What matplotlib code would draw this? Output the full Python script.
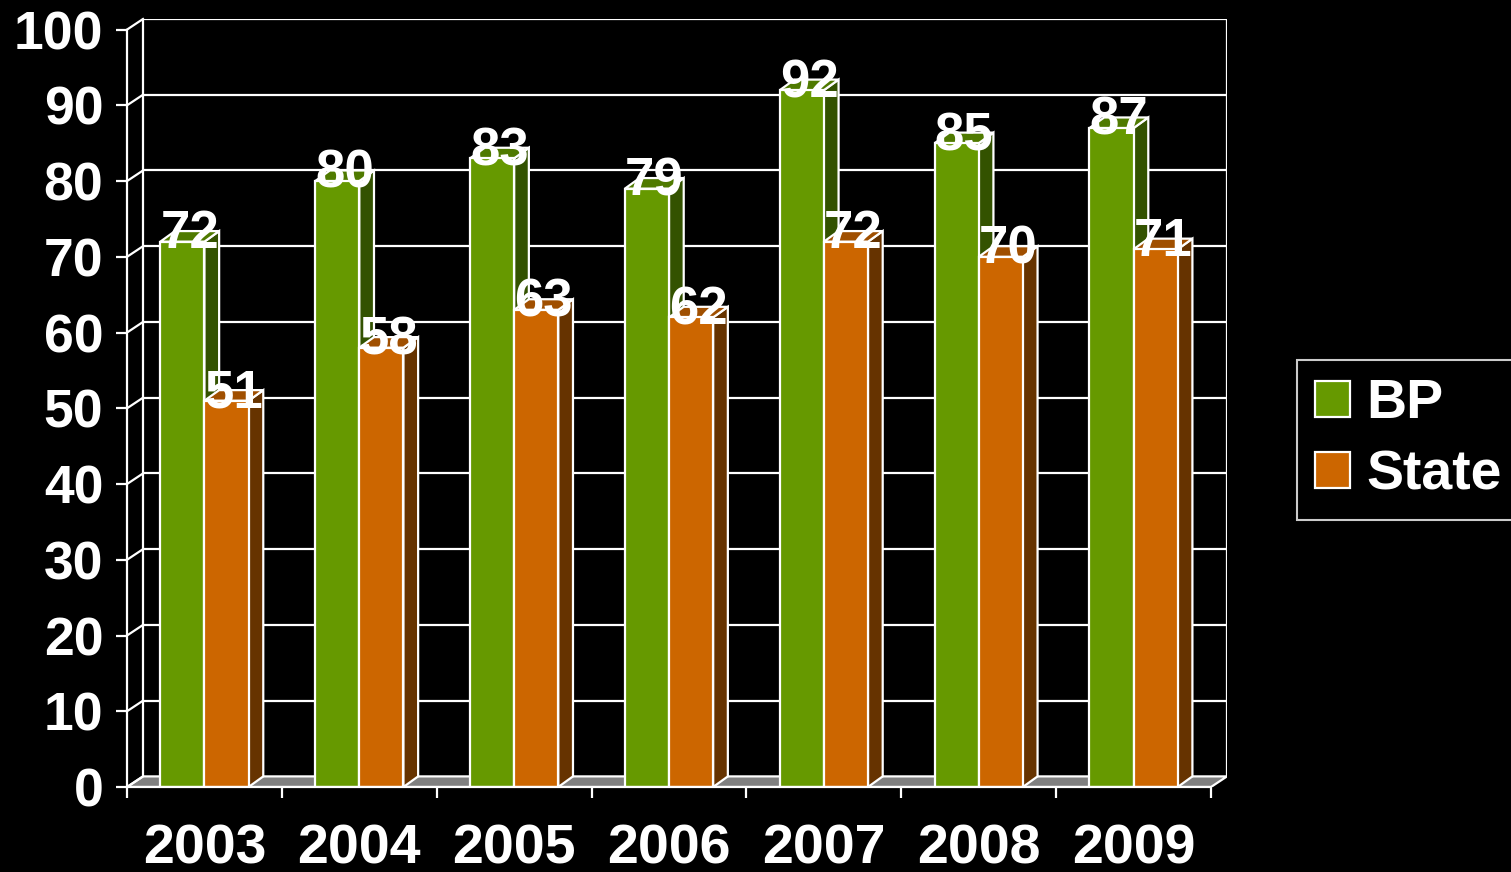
import matplotlib
matplotlib.use("Agg")
import matplotlib.pyplot as plt
from matplotlib.patches import Polygon

plt.rcParams['font.family'] = ['Liberation Sans', 'DejaVu Sans']
plt.rcParams['font.weight'] = 'bold'

# data
years = ['2003', '2004', '2005', '2006', '2007', '2008', '2009']
bp = [72, 80, 83, 79, 92, 85, 87]
state = [51, 58, 63, 62, 72, 70, 71]
yticks = list(range(0, 101, 10))

# colours
green = '#669900'
green_side = '#335200'
green_top = '#4f7a00'
orange = '#cc6600'
orange_side = '#663300'
orange_top = '#a04f00'

# fake 3d depth (data units)
wall_dx, wall_dy = 0.1033, 1.4
bar_dx, bar_dy = 0.095, 1.4
bar_w = 0.285

fig = plt.figure(figsize=(15.11, 8.72), dpi=100, facecolor='black')
ax = fig.add_axes([127 / 1511, 1 - 787 / 872, 1100 / 1511, 768 / 872])
ax.set_facecolor('black')
n = len(years)
ax.set_xlim(0, n + wall_dx)
ax.set_ylim(0, 100 + wall_dy)

lw = 1.6
# floor
ax.add_patch(Polygon([(0, 0), (n, 0), (n + wall_dx, wall_dy), (wall_dx, wall_dy)],
                     closed=True, facecolor='#808080', edgecolor='white', lw=lw, zorder=1))
# back wall grid and edges
ax.hlines([v + wall_dy for v in yticks[1:]], wall_dx, n + wall_dx, color='white', lw=lw, zorder=1)
ax.vlines([wall_dx, n + wall_dx], wall_dy, 100 + wall_dy, color='white', lw=lw, zorder=1)
for v in yticks:
    ax.plot([0, wall_dx], [v, v + wall_dy], color='white', lw=lw, zorder=1, clip_on=False)


def draw_bar(x, v, front, side, top, label):
    ax.add_patch(Polygon([(x + bar_w, 0), (x + bar_w + bar_dx, bar_dy),
                          (x + bar_w + bar_dx, v + bar_dy), (x + bar_w, v)],
                         closed=True, facecolor=side, edgecolor='white', lw=lw, zorder=2))
    ax.add_patch(Polygon([(x, v), (x + bar_w, v), (x + bar_w + bar_dx, v + bar_dy),
                          (x + bar_dx, v + bar_dy)],
                         closed=True, facecolor=top, edgecolor='white', lw=lw, zorder=2))
    ax.bar(x, v, width=bar_w, align='edge', color=front, edgecolor='white',
           lw=lw, zorder=2, label=label)


xs_bp = [i + 0.5 - bar_w for i in range(n)]
xs_st = [i + 0.5 for i in range(n)]
# left to right so orange front covers the green side face
for i in range(n):
    draw_bar(xs_bp[i], bp[i], green, green_side, green_top, 'BP' if i == 0 else None)
    draw_bar(xs_st[i], state[i], orange, orange_side, orange_top, 'State' if i == 0 else None)

for xs, vals in ((xs_bp, bp), (xs_st, state)):
    for x, v in zip(xs, vals):
        ax.text(x + bar_w / 2 + bar_dx / 2, v - 0.9, str(v), color='white', fontsize=38,
                fontweight='bold', ha='center', va='baseline', zorder=5)

# axes
for s in ['top', 'right']:
    ax.spines[s].set_visible(False)
ax.spines['left'].set_bounds(0, 100)
ax.spines['bottom'].set_bounds(0, n)
for s in ['left', 'bottom']:
    ax.spines[s].set_color('white')
    ax.spines[s].set_linewidth(lw)
    ax.spines[s].set_zorder(3)
ax.set_yticks(yticks)
ax.set_yticklabels([str(v) for v in yticks])
ax.tick_params(axis='y', colors='white', length=8, width=lw, pad=9, labelsize=38.5)
ax.set_xticks(range(n + 1))
ax.set_xticklabels([])
ax.set_xticks([i + 0.5 for i in range(n)], minor=True)
ax.set_xticklabels(years, minor=True)
ax.tick_params(axis='x', which='major', colors='white', length=8, width=lw)
ax.tick_params(axis='x', which='minor', colors='white', length=0, pad=26, labelsize=40)
for t in ax.get_yticklabels() + ax.get_xticklabels(minor=True):
    t.set_fontweight('bold')

leg = fig.legend(loc='upper left', bbox_to_anchor=(1297 / 1511, 1 - 360 / 872),
                 frameon=True, fancybox=False, facecolor='black', edgecolor='white',
                 prop={'size': 40, 'weight': 'bold'}, handlelength=0.62, handleheight=0.62,
                 handletextpad=0.3, labelspacing=0.35, borderpad=0.33, borderaxespad=0)
leg.get_frame().set_linewidth(1.5)
for t in leg.get_texts():
    t.set_color('white')

fig.savefig('out.png', dpi=100, facecolor='black')
